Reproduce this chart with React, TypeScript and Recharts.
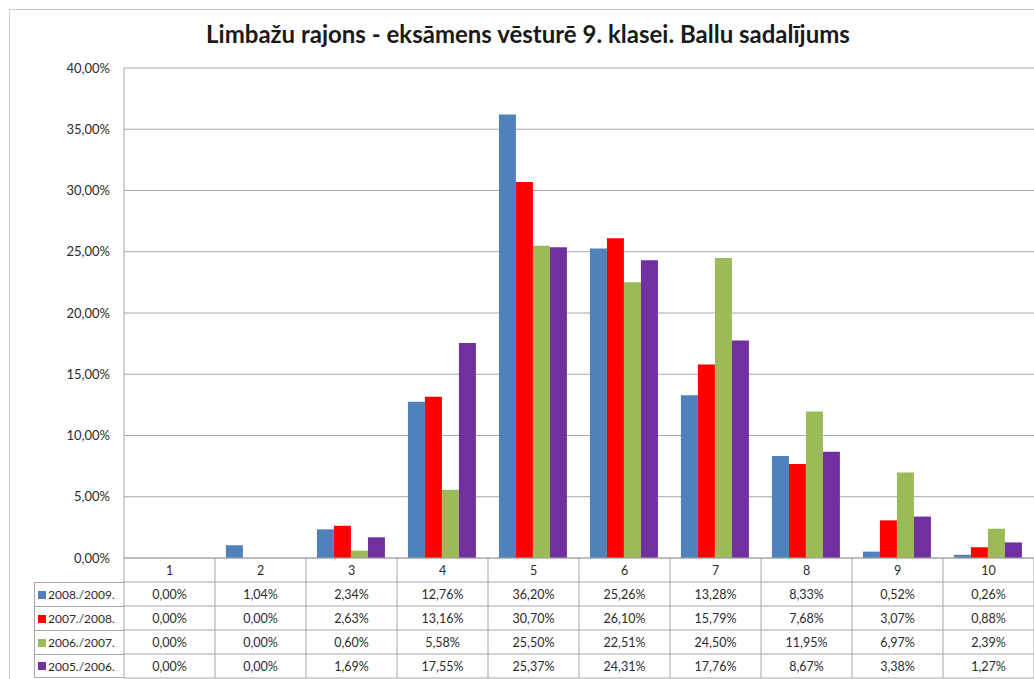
import React from 'react';
import { BarChart, Bar, XAxis, YAxis, CartesianGrid, Legend } from 'recharts';

const categories = ['1', '2', '3', '4', '5', '6', '7', '8', '9', '10'];
const seriesNames = ['2008./2009.', '2007./2008.', '2006./2007.', '2005./2006.'];
const s2008 = [0.0, 1.04, 2.34, 12.76, 36.2, 25.26, 13.28, 8.33, 0.52, 0.26];
const s2007 = [0.0, 0.0, 2.63, 13.16, 30.7, 26.1, 15.79, 7.68, 3.07, 0.88];
const s2006 = [0.0, 0.0, 0.6, 5.58, 25.5, 22.51, 24.5, 11.95, 6.97, 2.39];
const s2005 = [0.0, 0.0, 1.69, 17.55, 25.37, 24.31, 17.76, 8.67, 3.38, 1.27];
const yTicks = [0, 5, 10, 15, 20, 25, 30, 35, 40];

const series = [s2008, s2007, s2006, s2005];
const colors = ['#4F81BD', '#FF0000', '#9BBB59', '#7030A0'];
const keys = ['a', 'b', 'c', 'd'];

const W = 1034;
const H = 679;
const PLOT_LEFT = 124;
const PLOT_TOP = 68;
const PLOT_BOTTOM = 558;
const HEADER_H = 24;
const ROW_H = 24;
const COL_W = (W - PLOT_LEFT) / categories.length;
const FONT = 'Lato, "Open Sans", sans-serif';
const LINE = '#a6a6a6';
const TEXT = '#2b2b2b';

const fmt = (v: number) => v.toFixed(2).replace('.', ',') + '%';

const chartData = categories.map((c, i) => ({
  cat: c,
  a: s2008[i],
  b: s2007[i],
  c: s2006[i],
  d: s2005[i],
}));

// one table column per category, drawn at the x axis tick position
const TableTick = (props: any) => {
  const { x, payload } = props;
  const i = categories.indexOf(String(payload.value));
  const left = x - COL_W / 2;
  const right = x + COL_W / 2;
  const bottom = PLOT_BOTTOM + HEADER_H + ROW_H * series.length;
  return (
    <g>
      <line x1={left} x2={left} y1={PLOT_BOTTOM} y2={bottom} stroke={LINE} />
      {i === categories.length - 1 && (
        <line x1={right} x2={right} y1={PLOT_BOTTOM} y2={bottom} stroke={LINE} />
      )}
      <text
        x={x}
        y={PLOT_BOTTOM + HEADER_H / 2}
        dy={4.5}
        textAnchor="middle"
        fontSize={12.5}
        fontFamily={FONT}
        fill={TEXT}
      >
        {payload.value}
      </text>
      {series.map((s, r) => {
        const top = PLOT_BOTTOM + HEADER_H + ROW_H * r;
        return (
          <g key={r}>
            <line x1={left} x2={right} y1={top} y2={top} stroke={LINE} />
            <text
              x={x}
              y={top + ROW_H / 2}
              dy={4.5}
              textAnchor="middle"
              fontSize={12.5}
              fontFamily={FONT}
              fill={TEXT}
            >
              {fmt(s[i])}
            </text>
          </g>
        );
      })}
      <line x1={left} x2={right} y1={bottom} y2={bottom} stroke={LINE} />
    </g>
  );
};

const LegendRows = () => (
  <div style={{ fontFamily: FONT, fontSize: 12, color: TEXT }}>
    {seriesNames.map((n, r) => (
      <div
        key={n}
        style={{
          height: ROW_H,
          width: PLOT_LEFT - 34,
          boxSizing: 'border-box',
          borderLeft: `1px solid ${LINE}`,
          borderTop: `1px solid ${LINE}`,
          borderBottom: r === seriesNames.length - 1 ? `1px solid ${LINE}` : 'none',
          display: 'flex',
          alignItems: 'center',
          paddingLeft: 3,
          whiteSpace: 'nowrap',
        }}
      >
        <span
          style={{
            display: 'inline-block',
            width: 8,
            height: 8,
            background: colors[r],
            marginRight: 2,
          }}
        />
        {n}
      </div>
    ))}
  </div>
);

export default function App() {
  return (
    <div
      style={{
        position: 'absolute',
        left: 0,
        top: 0,
        width: W,
        height: H,
        background: '#fff',
        overflow: 'hidden',
      }}
    >
      <div
        style={{
          position: 'absolute',
          left: 9,
          top: 9,
          width: W + 20,
          height: H + 20,
          border: '1px solid #c8c8c8',
        }}
      />
      <div
        style={{
          position: 'absolute',
          left: 11,
          top: 19,
          width: W,
          textAlign: 'center',
          fontFamily: FONT,
          fontWeight: 'bold',
          fontSize: 24,
          color: '#1a1a1a',
        }}
      >
        Limbažu rajons - eksāmens vēsturē 9. klasei. Ballu sadalījums
      </div>
      <div style={{ position: 'absolute', left: 0, top: 0 }}>
        <BarChart
          width={W}
          height={H}
          data={chartData}
          margin={{ top: PLOT_TOP, right: 0, left: 0, bottom: 0 }}
          barCategoryGap="12%"
          barGap={0}
        >
          <CartesianGrid vertical={false} stroke={LINE} />
          <XAxis
            dataKey="cat"
            height={H - PLOT_BOTTOM}
            interval={0}
            tickLine={false}
            axisLine={{ stroke: LINE }}
            tick={<TableTick />}
          />
          <YAxis
            width={PLOT_LEFT}
            domain={[0, 40]}
            ticks={yTicks}
            tickFormatter={fmt}
            tickLine={false}
            tickMargin={8}
            axisLine={{ stroke: LINE }}
            tick={{ fontSize: 13, fontFamily: FONT, fill: TEXT }}
          />
          <Legend
            layout="vertical"
            align="center"
            verticalAlign="middle"
            wrapperStyle={{ position: 'absolute', left: 34, top: PLOT_BOTTOM + HEADER_H, width: PLOT_LEFT - 34 }}
            content={<LegendRows />}
          />
          {series.map((_, r) => (
            <Bar
              key={keys[r]}
              dataKey={keys[r]}
              name={seriesNames[r]}
              fill={colors[r]}
              isAnimationActive={false}
            />
          ))}
        </BarChart>
      </div>
    </div>
  );
}
